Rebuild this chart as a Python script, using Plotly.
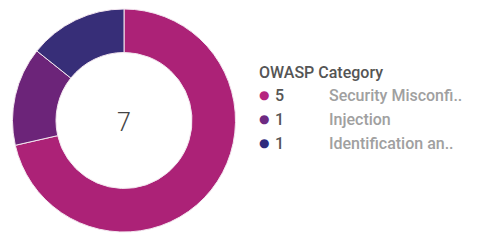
import plotly.graph_objects as go

categories = ["Security Misconfiguration", "Injection", "Identification and Authentication Failures"]
short_labels = ["Security Misconfi..", "Injection", "Identification an.."]
counts = [5, 1, 1]
colors = ["#AC2277", "#6C2479", "#372E78"]
dot_colors = ["#B5267F", "#6E2A82", "#2F2B7C"]
legend_title = "OWASP Category"

W, H = 477, 245
OFF = 8  # page body margin


def px(x):
    return (x - OFF) / W


def py(y):
    return 1 - (y - OFF) / H


fig = go.Figure()
fig.add_trace(go.Pie(
    labels=categories, values=counts, hole=0.61, sort=False,
    direction="clockwise", rotation=0,
    marker=dict(colors=colors, line=dict(color="#F3E6EF", width=1)),
    textinfo="none", hoverinfo="label+value", showlegend=False,
    domain=dict(x=[px(12), px(236)], y=[py(232), py(9)]),
))

fig.add_annotation(x=px(124), y=py(122), xref="paper", yref="paper",
                   text=str(sum(counts)), showarrow=False,
                   font=dict(family="Roboto", size=25, color="#444444", weight=300),
                   xanchor="center", yanchor="middle")

fig.add_annotation(x=px(257), y=py(72), xref="paper", yref="paper",
                   text=legend_title, showarrow=False,
                   font=dict(family="Roboto", size=16, color="#555555", weight=500),
                   xanchor="left", yanchor="middle")

for i, (c, lab, dc) in enumerate(zip(counts, short_labels, dot_colors)):
    yy = py(95 + i * 24)
    fig.add_annotation(x=px(264), y=yy, xref="paper", yref="paper", text="●",
                       showarrow=False, font=dict(family="DejaVu Sans", size=12, color=dc),
                       xanchor="center", yanchor="middle")
    fig.add_annotation(x=px(273), y=yy, xref="paper", yref="paper", text=str(c),
                       showarrow=False,
                       font=dict(family="Roboto", size=16, color="#555555", weight=500),
                       xanchor="left", yanchor="middle")
    fig.add_annotation(x=px(327), y=yy, xref="paper", yref="paper", text=lab,
                       showarrow=False,
                       font=dict(family="Roboto", size=16, color="#A0A0A0", weight=500),
                       xanchor="left", yanchor="middle")

fig.update_layout(width=W, height=H, margin=dict(l=0, r=0, t=0, b=0),
                  paper_bgcolor="white", plot_bgcolor="white")
fig.write_html("out.html")
